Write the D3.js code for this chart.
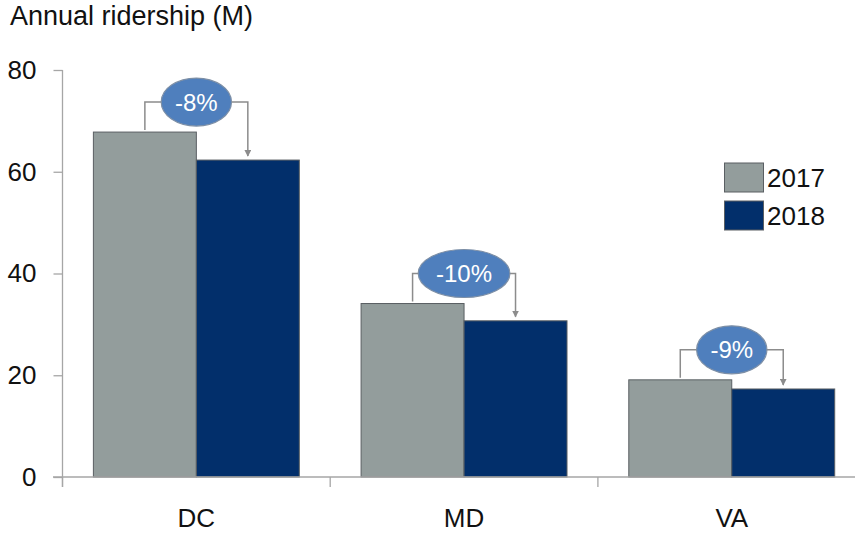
<!DOCTYPE html>
<html>
<head>
<meta charset="utf-8">
<script src="https://cdn.jsdelivr.net/npm/d3@7"></script>
<style>
  html, body { margin: 0; padding: 0; background: #fff; }
  svg { display: block; font-family: "Liberation Sans", Arial, sans-serif; }
</style>
</head>
<body>
<svg id="chart" width="855" height="537"></svg>
<script>
// Annual ridership (millions) by jurisdiction
const categories = ["DC", "MD", "VA"];
const seriesNames = ["2017", "2018"];
const ridership2017 = [67.8, 34.1, 19.1];
const ridership2018 = [62.3, 30.7, 17.3];
const yTicks = [0, 20, 40, 60, 80];
const colors = { "2017": "#939d9c", "2018": "#022f6b" };

const svg = d3.select("#chart");

const y = d3.scaleLinear().domain([0, 80]).range([477, 70]);
const x0 = d3.scaleBand().domain(categories).range([62.5, 865.6]).padding(0);
const x1 = d3.scaleBand().domain(seriesNames).range([0, x0.bandwidth()])
  .paddingInner(0).paddingOuter(0.3);

const rows = categories.map((c, i) => ({
  cat: c,
  "2017": ridership2017[i],
  "2018": ridership2018[i]
}));

const axisColor = "#a6a6a6";
const labelSize = 26;

// Title
svg.append("text")
  .attr("x", 10).attr("y", 25)
  .attr("font-size", 27)
  .attr("fill", "#111")
  .text("Annual ridership (M)");

// Y axis
const yAxis = svg.append("g")
  .attr("transform", "translate(62.5,0)")
  .call(d3.axisLeft(y).tickValues(yTicks).tickSize(9).tickPadding(17));
yAxis.select(".domain").remove();
yAxis.selectAll(".tick line").attr("stroke", axisColor).attr("stroke-width", 1.3);
yAxis.selectAll(".tick text").attr("font-size", labelSize).attr("fill", "#111")
  .attr("font-family", "Liberation Sans, Arial, sans-serif");
yAxis.append("line")
  .attr("x1", 0).attr("x2", 0)
  .attr("y1", y(80)).attr("y2", y(0) + 10)
  .attr("stroke", axisColor).attr("stroke-width", 1.3);

// X axis: labels centred on bands, ticks on band boundaries
const xAxis = svg.append("g")
  .attr("transform", `translate(0,${y(0)})`)
  .call(d3.axisBottom(x0).tickSize(0).tickPadding(32));
xAxis.select(".domain").remove();
xAxis.selectAll(".tick text").attr("font-size", labelSize).attr("fill", "#111")
  .attr("font-family", "Liberation Sans, Arial, sans-serif");

// Bars
const groups = svg.append("g").selectAll("g")
  .data(rows).join("g")
  .attr("transform", d => `translate(${x0(d.cat)},0)`);
groups.selectAll("rect")
  .data(d => seriesNames.map(s => ({ s, v: d[s] })))
  .join("rect")
  .attr("x", d => x1(d.s))
  .attr("y", d => y(d.v))
  .attr("width", x1.bandwidth())
  .attr("height", d => y(0) - y(d.v))
  .attr("fill", d => colors[d.s])
  .attr("stroke", "#5a5f63")
  .attr("stroke-width", 1);

svg.append("line")
  .attr("x1", 53).attr("x2", 855)
  .attr("y1", y(0)).attr("y2", y(0))
  .attr("stroke", axisColor).attr("stroke-width", 1.3);
const boundaries = categories.map(c => x0(c)).concat([x0.range()[1]]);
svg.append("g").selectAll("line")
  .data(boundaries).join("line")
  .attr("x1", d => d).attr("x2", d => d)
  .attr("y1", y(0)).attr("y2", y(0) + 10)
  .attr("stroke", axisColor).attr("stroke-width", 1.3);

// Change annotations: bracket from 2017 bar to 2018 bar with a callout
const defs = svg.append("defs");
defs.append("marker")
  .attr("id", "arrow")
  .attr("viewBox", "0 0 10 10")
  .attr("refX", 9).attr("refY", 5)
  .attr("markerWidth", 7).attr("markerHeight", 7)
  .attr("markerUnits", "userSpaceOnUse")
  .attr("orient", "auto")
  .append("path").attr("d", "M0,0 L10,5 L0,10 z").attr("fill", "#8c8c8c");

const ann = svg.append("g");
rows.forEach(d => {
  const xa = x0(d.cat) + x1("2017") + x1.bandwidth() / 2;
  const xb = x0(d.cat) + x1("2018") + x1.bandwidth() / 2;
  const xm = x0(d.cat) + x1("2018");
  const yTop = y(d["2017"]) - 30;
  const pct = Math.round((d["2018"] / d["2017"] - 1) * 100);

  ann.append("path")
    .attr("d", `M${xa},${y(d["2017"]) - 2} V${yTop} H${xb} V${y(d["2018"]) - 4}`)
    .attr("fill", "none")
    .attr("stroke", "#8c8c8c")
    .attr("stroke-width", 1.5)
    .attr("marker-end", "url(#arrow)");

  const ell = ann.append("ellipse")
    .attr("cx", xm).attr("cy", yTop)
    .attr("ry", 24)
    .attr("fill", "#4f7fbd")
    .attr("stroke", "#7d8fa6")
    .attr("stroke-width", 1.2);
  const t = ann.append("text")
    .attr("x", xm).attr("y", yTop)
    .attr("text-anchor", "middle")
    .attr("dy", "0.36em")
    .attr("font-size", 24)
    .attr("fill", "#fff")
    .text(`${pct}%`);
  const w = t.node().getComputedTextLength();
  ell.attr("rx", 0.8 * w + 1);
});

// Legend
const legend = svg.append("g");
seriesNames.forEach((s, i) => {
  legend.append("rect")
    .attr("x", 724.5).attr("y", 163 + i * 38)
    .attr("width", 39).attr("height", 29)
    .attr("fill", colors[s])
    .attr("stroke", "#5a5f63").attr("stroke-width", 1);
  legend.append("text")
    .attr("x", 767).attr("y", 187 + i * 38)
    .attr("font-size", labelSize)
    .attr("fill", "#111")
    .text(s);
});
</script>
</body>
</html>
